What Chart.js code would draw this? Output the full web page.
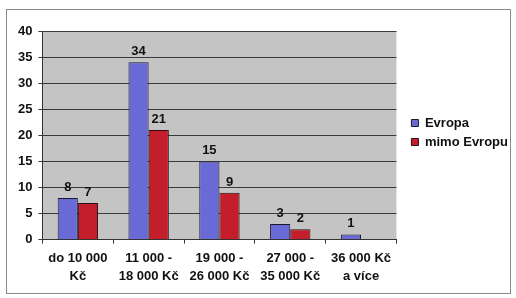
<!DOCTYPE html>
<html>
<head>
<meta charset="utf-8">
<script src="https://cdn.jsdelivr.net/npm/chart.js@4/dist/chart.umd.min.js"></script>
<style>
  html, body { margin: 0; padding: 0; background: #fff; }
  #wrap { position: relative; width: 516px; height: 298px; }
  #frame { position: absolute; left: 6px; top: 9px; width: 503px; height: 283px; border: 1px solid #8a8a8a; }
  canvas { position: absolute; left: 0; top: 0; }
</style>
</head>
<body>
<div id="wrap">
  <div id="frame"></div>
  <canvas id="chart" width="516" height="298"></canvas>
</div>
<script>
const categories = [
    ["do 10 000", "Kč"],
    ["11 000 -", "18 000 Kč"],
    ["19 000 -", "26 000 Kč"],
    ["27 000 -", "35 000 Kč"],
    ["36 000 Kč", "a více"],
];
const evropa = [8, 34, 15, 3, 1];
const mimoEvropu = [7, 21, 9, 2, null];
const yTicks = { min: 0, max: 40, step: 5 };

const fontFamily = "'Liberation Sans', Arial, sans-serif";

// values above each bar
const valueLabels = {
    id: "valueLabels",
    afterDatasetsDraw(chart) {
        const ctx = chart.ctx;
        ctx.save();
        ctx.font = "bold 13px " + fontFamily;
        ctx.fillStyle = "#111";
        ctx.textAlign = "center";
        ctx.textBaseline = "bottom";
        chart.data.datasets.forEach((ds, i) => {
            chart.getDatasetMeta(i).data.forEach((bar, j) => {
                const v = ds.data[j];
                if (v === null || v === undefined) return;
                ctx.fillText(String(v), bar.x, bar.y - 4);
            });
        });
        ctx.restore();
    },
};

// grey plot background
const plotBg = {
    id: "plotBg",
    beforeDraw(chart) {
        const a = chart.chartArea;
        const ctx = chart.ctx;
        ctx.save();
        ctx.fillStyle = "#c4c4c4";
        ctx.fillRect(a.left, a.top, a.right - a.left, a.bottom - a.top);
        ctx.restore();
    },
};

// nudge the legend a bit right and up, like in the original
const legendShift = {
    id: "legendShift",
    afterLayout(chart) {
        const lg = chart.legend;
        if (!lg) return;
        lg.left += 9;
        lg.right += 9;
        lg.top -= 29;
        lg.bottom -= 29;
    },
};

new Chart(document.getElementById("chart").getContext("2d"), {
    type: "bar",
    data: {
        labels: categories,
        datasets: [
            {
                label: "Evropa",
                data: evropa,
                backgroundColor: "#6a6ad6",
                borderColor: "#1a1a2a",
                borderWidth: 1,
                categoryPercentage: 0.57,
                barPercentage: 1.0,
            },
            {
                label: "mimo Evropu",
                data: mimoEvropu,
                backgroundColor: "#c41e2c",
                borderColor: "#2a1010",
                borderWidth: 1,
                categoryPercentage: 0.57,
                barPercentage: 1.0,
            },
        ],
    },
    options: {
        responsive: false,
        animation: false,
        layout: { padding: { top: 31, left: 12, right: 7, bottom: 6 } },
        scales: {
            x: {
                grid: {
                    display: true,
                    drawOnChartArea: false,
                    drawTicks: true,
                    tickLength: 4,
                    color: "#333",
                    offset: true,
                },
                border: { display: true, color: "#333" },
                ticks: {
                    color: "#111",
                    font: { family: fontFamily, size: 13, weight: "bold", lineHeight: 1.4 },
                    maxRotation: 0,
                    padding: 6,
                },
            },
            y: {
                min: yTicks.min,
                max: yTicks.max,
                ticks: {
                    stepSize: yTicks.step,
                    color: "#111",
                    font: { family: fontFamily, size: 13, weight: "bold" },
                    padding: 6,
                },
                grid: { color: "#3a3a3a", tickLength: 4, lineWidth: 1 },
                border: { display: true, color: "#333" },
            },
        },
        plugins: {
            legend: {
                position: "right",
                align: "center",
                labels: {
                    boxWidth: 7,
                    boxHeight: 7,
                    padding: 6,
                    color: "#111",
                    font: { family: fontFamily, size: 13, weight: "bold" },
                },
            },
            tooltip: { enabled: false },
        },
    },
    plugins: [plotBg, valueLabels, legendShift],
});
</script>
</body>
</html>
